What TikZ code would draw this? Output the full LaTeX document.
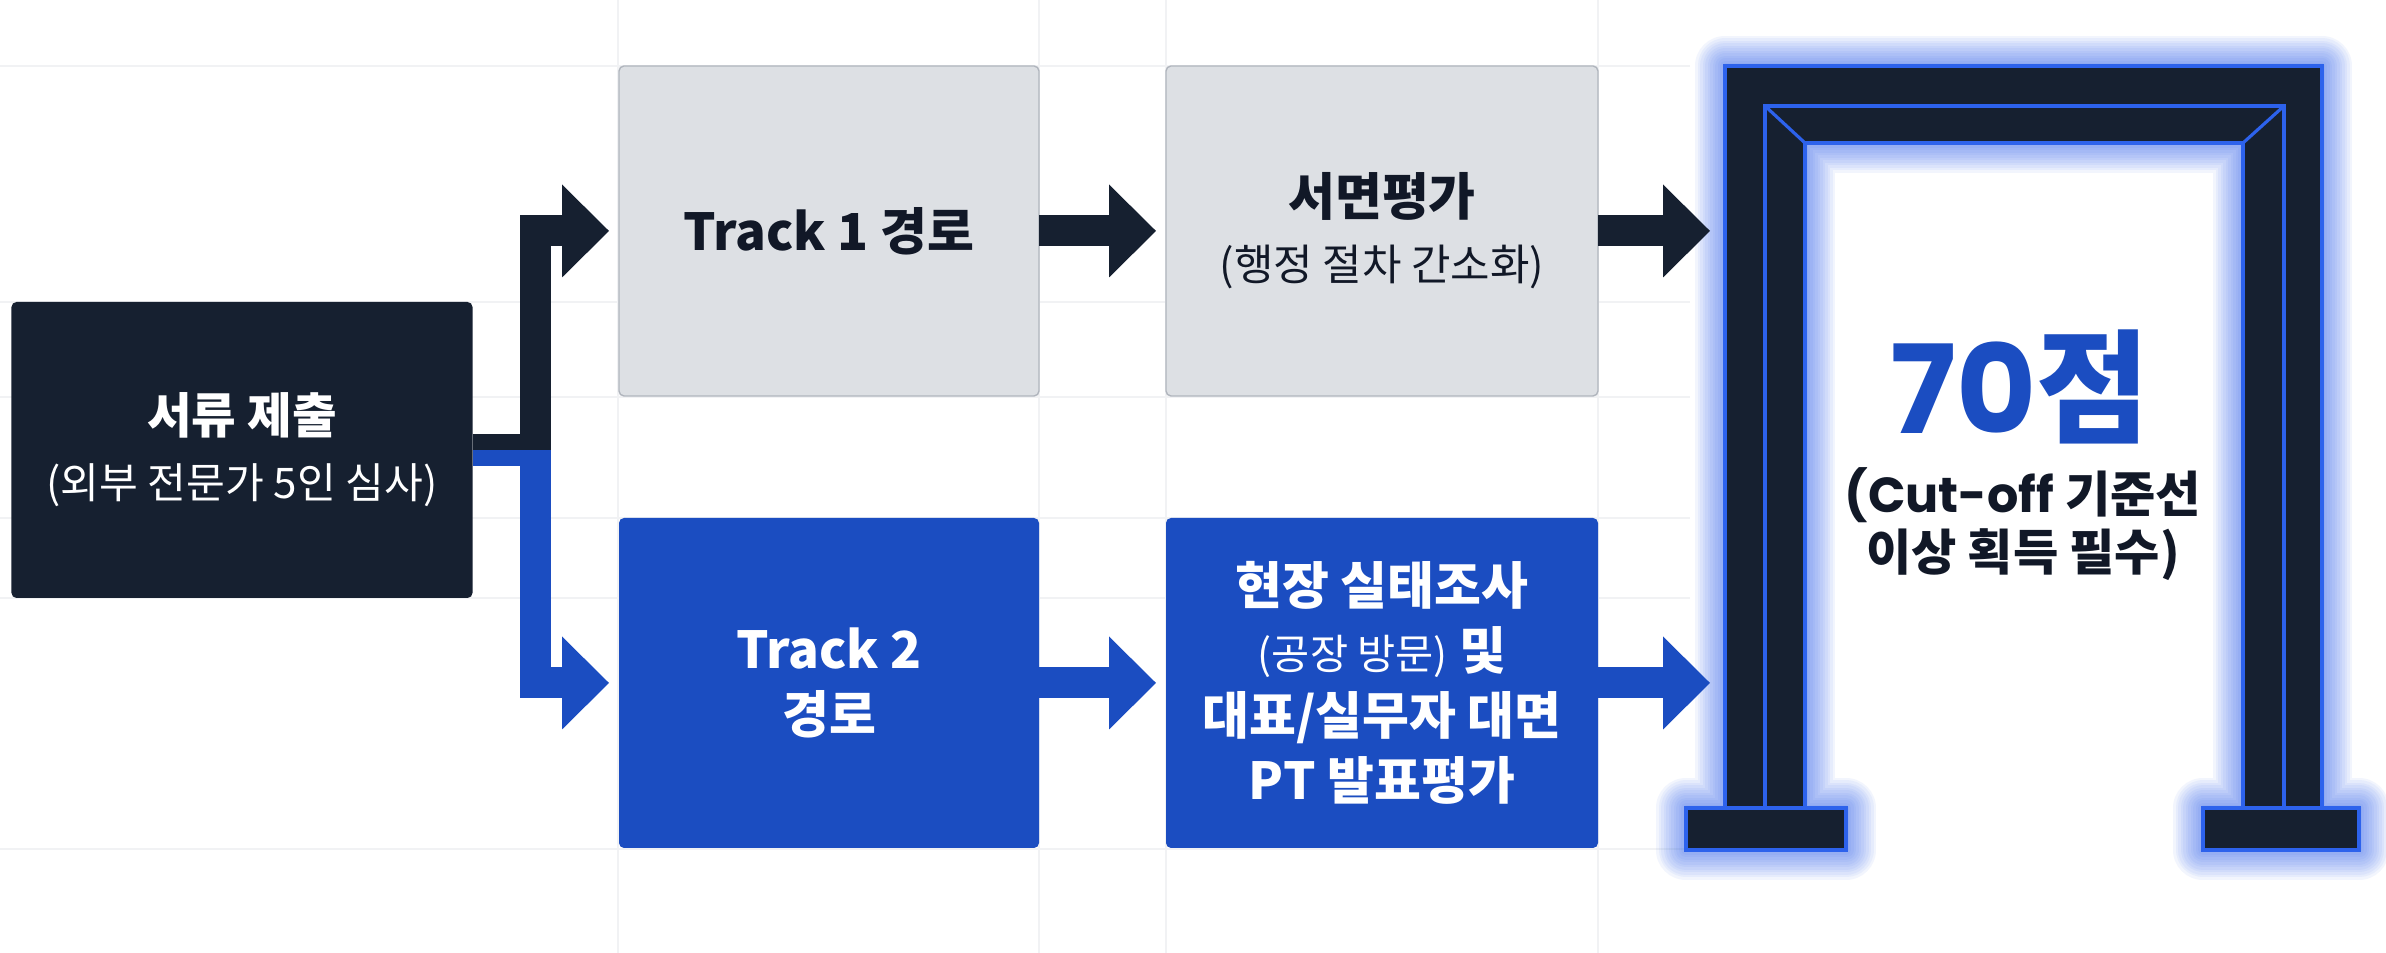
\documentclass[tikz,border=0pt]{standalone}
\usepackage{fontspec}
\setmainfont{Noto Sans CJK KR}
\newfontfamily\popfont{Poppins}
\usepackage{tikz}
\usetikzlibrary{arrows.meta, calc}
\tikzset{>=latex}
\definecolor{mynavy}{RGB}{22, 32, 48}
\definecolor{myblue}{RGB}{27, 77, 193}
\definecolor{mygray1}{RGB}{221, 224, 228}
\definecolor{mygray2}{RGB}{176, 181, 189}
\definecolor{mygray3}{RGB}{241, 242, 244}
\definecolor{myink}{RGB}{17, 24, 39}
\definecolor{myglow}{RGB}{45, 98, 236}
\newcommand{\gateoutline}{(16.86,1.03) -- (18.46,1.03) -- (18.46,1.45) -- (18.05,1.45) -- (18.05,8.10) -- (22.43,8.10) -- (22.43,1.45) -- (22.03,1.45) -- (22.03,1.03) -- (23.59,1.03) -- (23.59,1.45) -- (23.22,1.45) -- (23.22,8.87) -- (17.25,8.87) -- (17.25,1.45) -- (16.86,1.45) -- cycle}
\tikzset{
  box/.style = {rectangle, rounded corners=0.5mm, inner sep=0pt, outer sep=0pt, align=center, minimum height=3.30cm, font=\fontsize{14.5}{18.5}\selectfont},
  graybox/.style = {box, fill=mygray1, draw=mygray2, line width=0.4pt, text=myink},
  bluebox/.style = {box, fill=myblue, text=white},
  navybox/.style = {box, fill=mynavy, text=white},
  pipe/.style = {line width=3.1mm, line join=miter, -{Triangle[length=4.7mm, width=9.3mm, line width=0pt]}, shorten >=1mm},
  gatefill/.style = {fill=mynavy, draw=myglow, line width=0.9pt},
  gateedge/.style = {draw=myglow, line width=0.9pt}
}

\begin{document}
\begin{tikzpicture}
\useasboundingbox (0,0) rectangle (23.86,9.53);
\fill[white] (0,0) rectangle (23.86,9.53);
\foreach \gx in {6.18, 10.39, 11.66, 15.98} \draw[mygray3] (\gx,0) -- (\gx,9.53);
\foreach \gy in {8.87, 6.51, 5.56, 4.35, 3.55, 1.04} \draw[mygray3] (0,\gy) -- (16.9,\gy);

\node[navybox, minimum width=4.61cm, minimum height=2.96cm] (doc) at (2.42,5.03) {{\bfseries\fontsize{13.8}{18}\selectfont 서류 제출}\\{\fontsize{12}{18}\selectfont (외부 전문가 5인 심사)}};
\node[graybox, minimum width=4.20cm] (t1) at (8.29,7.22) {\bfseries Track 1 경로};
\node[graybox, minimum width=4.32cm] (written) at (13.82,7.22) {{\bfseries 서면평가}\\{\fontsize{12.2}{18}\selectfont (행정 절차 간소화)}};
\node[bluebox, minimum width=4.20cm] (t2) at (8.29,2.70) {\bfseries Track 2\\\bfseries 경로};
\node[bluebox, minimum width=4.32cm] (site) at (13.82,2.70) {\bfseries 현장 실태조사\\{\fontsize{11.8}{18}\selectfont (공장 방문)} \bfseries 및\\\bfseries 대표/실무자 대면\\\bfseries PT 발표평가};

\foreach \i in {1,...,12} \draw[myglow, line width=0.5*\i mm, opacity=0.06, line join=round] \gateoutline;
\filldraw[gatefill] (17.25,1.45) -- (17.25,8.87) -- (23.22,8.87) -- (23.22,1.45) -- (22.43,1.45) -- (22.43,8.10) -- (18.05,8.10) -- (18.05,1.45) -- cycle;
\draw[gateedge] (17.65,1.45) -- (17.65,8.47) -- (22.84,8.47) -- (22.84,1.45);
\draw[gateedge] (17.65,8.47) -- (18.05,8.10);
\draw[gateedge] (22.84,8.47) -- (22.43,8.10);
\filldraw[gatefill] (16.86,1.03) rectangle (18.46,1.45);
\filldraw[gatefill] (22.03,1.03) rectangle (23.59,1.45);
\coordinate (gateL) at (17.25,5.00);

\node[text=myblue] (score) at (20.20,5.66) {\fontsize{35}{40}\selectfont{\popfont\bfseries 70}\bfseries 점};
\node[text=myink, align=center, font=\bfseries\fontsize{14}{16.5}\selectfont] (cutoff) at (20.23,4.29) {{\popfont\bfseries (Cut-off} 기준선\\이상 획득 필수)};

\coordinate (fork) at ($(doc.east)+(0.625,0)$);
\draw[mynavy, line width=1.6mm] ([yshift=0.08cm]doc.east) -- ([yshift=0.08cm]doc.east -| fork);
\draw[myblue, line width=1.6mm] ([yshift=-0.08cm]doc.east) -- ([yshift=-0.08cm]doc.east -| fork);
\draw[pipe, mynavy] (fork) |- (t1.west);
\draw[pipe, myblue] (fork) |- (t2.west);
\draw[pipe, mynavy] (t1) -- (written);
\draw[pipe, myblue] (t2) -- (site);
\draw[pipe, mynavy, shorten >=1.5mm] (written) -- (written -| gateL);
\draw[pipe, myblue, shorten >=1.5mm] (site) -- (site -| gateL);
\end{tikzpicture}
\end{document}
